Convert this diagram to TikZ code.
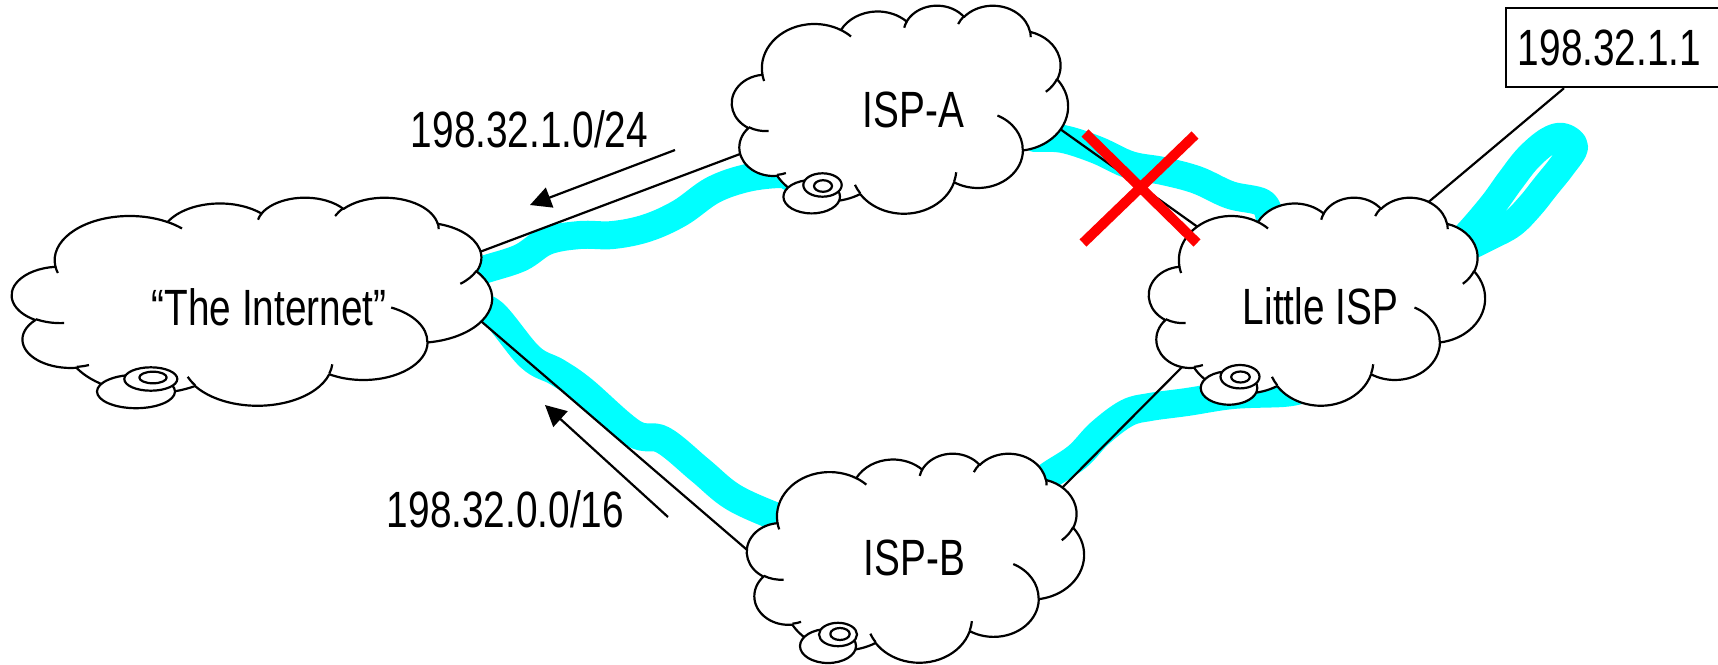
\documentclass[tikz,border=0pt]{standalone}
\usepackage{fontspec}
\setmainfont{Liberation Sans}[FakeStretch=0.76]
\usetikzlibrary{arrows.meta,calc}

\definecolor{wirecyan}{RGB}{0,255,255}
\definecolor{crossred}{RGB}{255,0,0}

% One elliptical arc of the cloud outline, in a 43.2 x 43.2 box.
% #1,#2: radii; #3: start angle; #4: sweep (true angles, turned into
% the parametric angles that TikZ's arc wants).
\newcommand\ooarc[4]{arc[x radius=#1pt, y radius=#2pt,
  start angle={atan2(#1*sin(#3),#2*cos(#3))},
  delta angle={mod(atan2(#1*sin(#3+#4),#2*cos(#3+#4))-atan2(#1*sin(#3),#2*cos(#3))+720,360)}]}

% The cloud: a white puffy outline plus the small inner hooks.
\newcommand\cloudoutline{%
  \filldraw[cloudline, fill=white] (3.900pt,14.370pt)
    \ooarc{6.753}{9.190}{-190.4875}{123.7805}
    \ooarc{5.333}{7.267}{-144.1024}{89.9452}
    \ooarc{4.365}{5.945}{-145.8079}{99.7230}
    \ooarc{4.857}{6.595}{-130.9861}{117.2417}
    \ooarc{5.333}{7.273}{-78.7089}{109.0269}
    \ooarc{6.775}{9.220}{-46.2673}{130.2690}
    \ooarc{5.785}{7.867}{0.6250}{114.0333}
    \ooarc{6.752}{9.215}{22.4516}{115.1726}
    \ooarc{7.720}{10.543}{66.2426}{75.7110}
    \ooarc{4.360}{5.918}{-274.9421}{146.7356}
    \ooarc{4.345}{5.945}{-246.8285}{152.5189}
    -- cycle;
  \draw[cloudline] (4.693pt,26.177pt) \ooarc{4.345}{5.945}{86.7420}{26.4295};
  \draw[cloudline] (6.928pt,34.899pt) \ooarc{4.360}{5.918}{73.6105}{11.4475};
  \draw[cloudline] (16.478pt,39.090pt) \ooarc{6.752}{9.215}{137.6242}{14.0811};
  \draw[cloudline] (28.827pt,34.751pt) \ooarc{6.752}{9.215}{6.4533}{15.9984};
  \draw[cloudline] (34.129pt,22.954pt) \ooarc{5.785}{7.867}{-70.2924}{70.9174};
  \draw[cloudline] (41.798pt,15.354pt) \ooarc{5.333}{7.273}{30.3180}{27.7515};
  \draw[cloudline] (38.324pt,5.426pt) \ooarc{4.857}{6.595}{-13.7443}{14.8589};
  \draw[cloudline] (29.078pt,3.952pt) \ooarc{4.857}{6.595}{-149.1815}{18.1954};
  \draw[cloudline] (22.141pt,4.720pt) \ooarc{4.365}{5.945}{-163.4943}{17.6864};
  \draw[cloudline] (14.000pt,5.192pt) \ooarc{6.753}{9.190}{-66.7070}{12.3194};
  \draw[cloudline] (4.127pt,15.789pt) \ooarc{6.753}{9.190}{157.6544}{11.8582};
}

% named area of a cloud: #1 name, #2 left, #3 top, #4 width, #5 height
\newcommand\cloudspot[5]{%
  \node[cloudarea, minimum width=#4pt, minimum height=#5pt, anchor=north west] (#1) at (#2,#3) {};}
% puffy outline over that area: #1 name, #2 width, #3 height
\newcommand\cloudpuffs[3]{%
  \begin{scope}[shift={(#1.north west)}, xscale=#2/43.2, yscale=-#3/43.2]
    \cloudoutline
  \end{scope}}

\begin{document}
\begin{tikzpicture}[x=1pt, y=-1pt,
  cloudline/.style={line width=2.2pt, line join=round},
  cloudarea/.style={inner sep=0pt, outer sep=0pt},
  bubble/.style={cloudline, fill=white},
  lbl/.style={font=\fontsize{51}{60}\selectfont, inner sep=0pt},
  wire/.style={draw=wirecyan, line width=28pt, line cap=round, line join=round},
  link/.style={line width=2.2pt},
  adv/.style={line width=2.2pt, -{Triangle[length=21pt,width=21pt]}},
  cross/.style={draw=crossred, line width=10pt},
  addrframe/.style={draw, line width=2.2pt, inner sep=0pt}]
\useasboundingbox (0,0) rectangle (1718,664);

% where the clouds sit
\cloudspot{inet}{12}{197}{480}{208}
\cloudspot{ispa}{732}{5}{336}{208}
\cloudspot{isp}{1149}{197}{336}{208}
\cloudspot{ispb}{747}{453}{337}{209}

% address box
\node[addrframe, minimum width=240pt, minimum height=79pt, anchor=north west] (addrbox) at (1505,7) {};
\node[lbl, anchor=base] (addr) at (1609.5,65) {198.32.1.1};

% link ends, tucked under the clouds
\coordinate (w1s) at ($(inet.north west)+(450,81)$);
\coordinate (w1e) at ($(ispa.north west)+(58,172)$);
\coordinate (w2s) at ($(ispa.north west)+(303,133)$);
\coordinate (w2e) at ($(isp.north west)+(121,25)$);
\coordinate (w3s) at ($(inet.north west)+(458,108)$);
\coordinate (w3e) at ($(ispb.north west)+(48,69)$);
\coordinate (w4s) at ($(ispb.north west)+(293,35)$);
\coordinate (w4e) at ($(isp.north west)+(151,193)$);
\coordinate (w5s) at ($(isp.north west)+(291,60)$);
\coordinate (w5e) at ($(isp.north west)+(286,66)$);

% traffic paths
\draw[wire] plot[smooth, tension=0.6] coordinates {(w1s) (483,270) (520,258) (547,241) (580,235) (613,235) (647,228) (680,213) (713,190) (747,178) (780,174) (w1e)};
\draw[wire] plot[smooth, tension=0.6] coordinates {(w2s) (1063,139) (1097,150) (1130,165) (1163,171) (1197,180) (1230,195) (1263,203) (w2e)};
\draw[wire] plot[smooth, tension=0.6] coordinates {(w3s) (493,313) (530,357) (557,372) (583,390) (633,433) (663,440) (700,470) (733,497) (777,517) (w3e)};
\draw[wire] plot[smooth, tension=0.6] coordinates {(w4s) (1047,477) (1077,457) (1100,433) (1127,413) (1150,407) (1187,402) (1233,395) (1283,393) (w4e)};
\draw[wire] plot[smooth, tension=0.6] coordinates {(w5s) (1462,240) (1491,207) (1510,181) (1528,158) (1548,141) (1563,137) (1574,147) (1562,166) (1546,186) (1530,206) (1512,224) (1488,237) (w5e)};

% physical links
\draw[link] ($(inet.north west)+(449,62)$) -- ($(ispa.north west)+(24,143)$);
\draw[link] ($(ispa.north west)+(314,114)$) -- ($(isp.north west)+(67,43)$);
\draw[link] ($(inet.north west)+(456,113)$) -- ($(ispb.north west)+(13,108)$);
\draw[link] ($(ispb.north west)+(302,48)$) -- ($(isp.north west)+(47,156)$);
\draw[link] ($(isp.north west)+(270,13)$) -- ($(addrbox.south west)+(59,0)$);

% the clouds themselves, over the link ends
\cloudpuffs{inet}{480}{208}
\cloudpuffs{ispa}{336}{208}
\cloudpuffs{isp}{336}{208}
\cloudpuffs{ispb}{337}{209}

% thought-bubble tails
\draw[bubble] (136,391.5) ellipse[x radius=39pt, y radius=16.7pt];
\draw[bubble] (150.8,379) ellipse[x radius=26.5pt, y radius=11.7pt];
\draw[bubble] (153,377.5) ellipse[x radius=13.7pt, y radius=5.8pt];
\draw[bubble] (811.7,196.7) ellipse[x radius=28.3pt, y radius=16.7pt];
\draw[bubble] (822.5,185) ellipse[x radius=19.2pt, y radius=11.7pt];
\draw[bubble] (823,186) ellipse[x radius=9pt, y radius=5.8pt];
\draw[bubble] (1229,388) ellipse[x radius=28.3pt, y radius=16.7pt];
\draw[bubble] (1240,376.7) ellipse[x radius=19.5pt, y radius=11.7pt];
\draw[bubble] (1240.5,377) ellipse[x radius=9.3pt, y radius=5.5pt];
\draw[bubble] (828,646) ellipse[x radius=28pt, y radius=17pt];
\draw[bubble] (838,634.5) ellipse[x radius=19pt, y radius=11.7pt];
\draw[bubble] (840,634) ellipse[x radius=9.7pt, y radius=6pt];

% cloud names
\node[lbl, anchor=base] (inet-name) at (269,325) {“The Internet”};
\node[lbl, anchor=base] (ispa-name) at (913.5,127) {ISP-A};
\node[lbl, anchor=base] (isp-name) at (1320.5,324) {Little ISP};
\node[lbl, anchor=base] (ispb-name) at (914.5,575) {ISP-B};

% announced prefixes
\node[lbl, anchor=base] (pfx24) at (529.5,147) {198.32.1.0/24};
\node[lbl, anchor=base] (pfx16) at (505.5,527) {198.32.0.0/16};
\coordinate (a24s) at (675,150);
\coordinate (a24e) at (530,205);
\coordinate (a16s) at (668,517);
\coordinate (a16e) at (545,405);
\draw[adv] (a24s) -- (a24e);
\draw[adv] (a16s) -- (a16e);

% broken link mark
\coordinate (xa1) at (1085,133);
\coordinate (xa2) at (1197,243);
\coordinate (xb1) at (1195,135);
\coordinate (xb2) at (1083,243);
\draw[cross] (xa1) -- (xa2);
\draw[cross] (xb1) -- (xb2);
\end{tikzpicture}
\end{document}
